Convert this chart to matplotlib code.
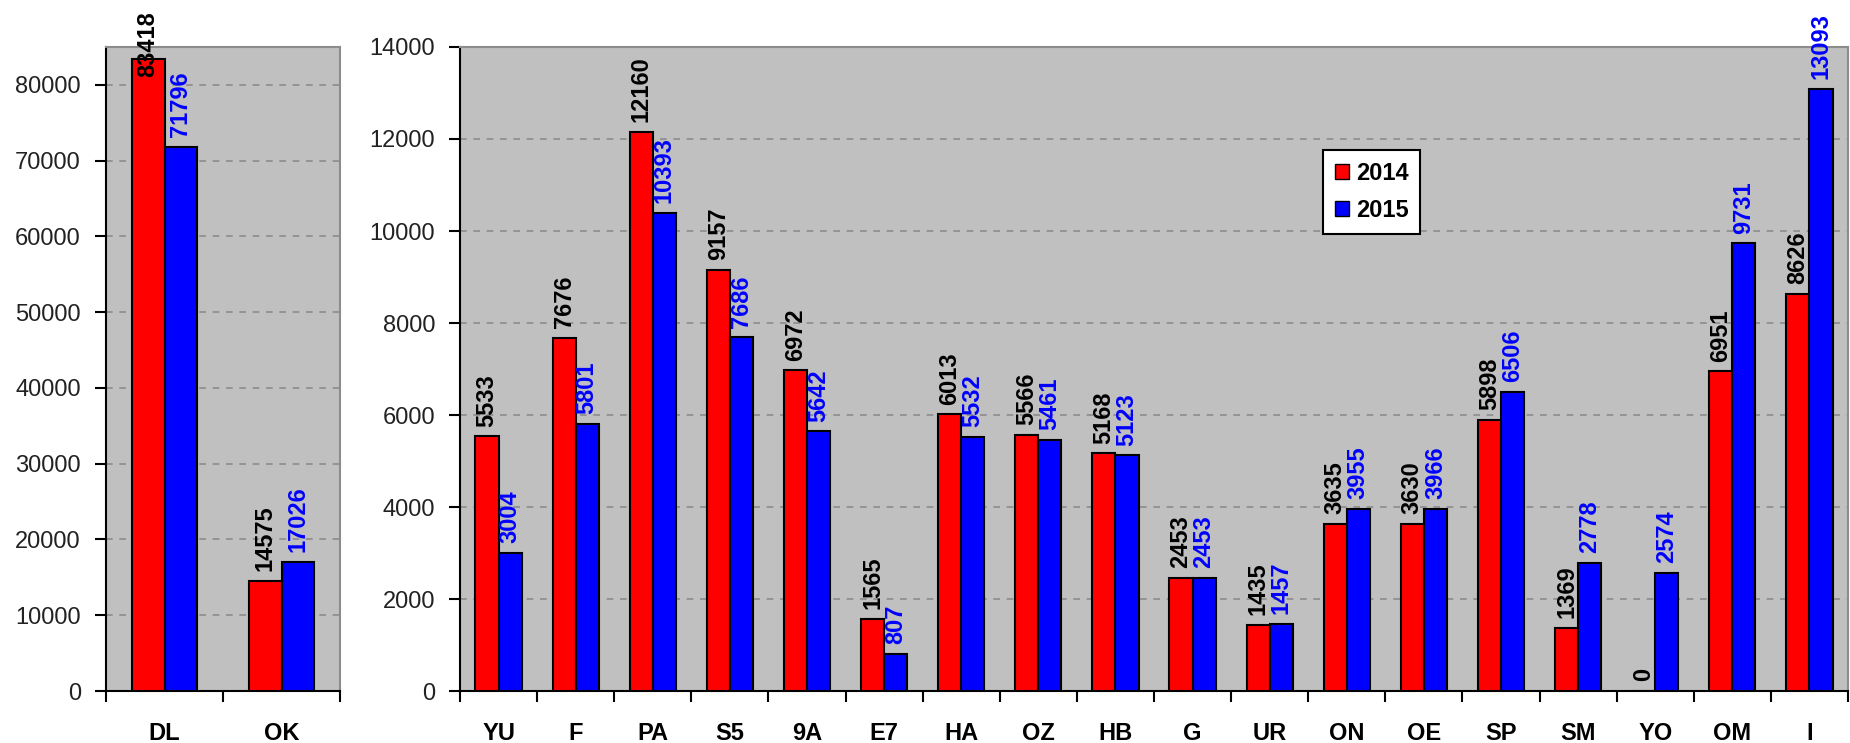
import numpy as np
import matplotlib
matplotlib.use("Agg")
import matplotlib.pyplot as plt
from matplotlib.patches import Patch

plt.rcParams['font.family'] = ['Liberation Sans', 'DejaVu Sans']

# data
big_cats = ["DL", "OK"]
big_2014 = [83418, 14575]
big_2015 = [71796, 17026]

small_cats = ["YU", "F", "PA", "S5", "9A", "E7", "HA", "OZ", "HB", "G",
              "UR", "ON", "OE", "SP", "SM", "YO", "OM", "I"]
small_2014 = [5533, 7676, 12160, 9157, 6972, 1565, 6013, 5566, 5168, 2453,
              1435, 3635, 3630, 5898, 1369, 0, 6951, 8626]
small_2015 = [3004, 5801, 10393, 7686, 5642, 807, 5532, 5461, 5123, 2453,
              1457, 3955, 3966, 6506, 2778, 2574, 9731, 13093]

RED = "#ff0000"
BLUE = "#0000ff"
BG = "#c0c0c0"
FS = 17

fig = plt.figure(figsize=(18.5, 7.43), dpi=100)
ax1 = fig.add_axes([106/1850, 1-691/743, (340-106)/1850, (691-47)/743])
ax2 = fig.add_axes([460/1850, 1-691/743, (1848-460)/1850, (691-47)/743])


def draw(ax, cats, v14, v15, ymax, step, w, label_cap=None):
    x = np.arange(len(cats))
    ax.set_facecolor(BG)
    ax.bar(x - w/2, v14, w, color=RED, edgecolor="black", linewidth=1.5, zorder=3)
    ax.bar(x + w/2, v15, w, color=BLUE, edgecolor="black", linewidth=1.5, zorder=3)
    for xi, a, b in zip(x, v14, v15):
        for xx, v, c in ((xi - w/2, a, "black"), (xi + w/2, b, BLUE)):
            y, off = v, 7
            # excel pushes the label down when it would leave the picture
            if label_cap is not None and v > label_cap:
                y, off = label_cap, 0
            ax.annotate(str(v), (xx, y), xytext=(0, off), textcoords="offset points",
                        rotation=90, ha="center", va="bottom", fontsize=FS,
                        fontweight="bold", color=c, zorder=5, annotation_clip=False)
    ax.set_xlim(-0.5, len(cats) - 0.5)
    ax.set_ylim(0, ymax)
    ax.set_yticks(np.arange(0, ymax + 1, step))
    ax.set_xticks(x)
    ax.set_xticklabels(cats, fontsize=FS, fontweight="bold")
    ax.set_xticks(np.arange(-0.5, len(cats)), minor=True)
    ax.tick_params(axis="x", which="major", length=0, pad=22)
    ax.tick_params(axis="x", which="minor", length=8, width=1.5, direction="out")
    ax.tick_params(axis="y", length=8, width=1.5, pad=10, labelsize=FS, labelcolor="#222222")
    ax.grid(axis="y", color="#8c8c8c", linestyle=(0, (4, 4)), linewidth=1.2, zorder=0)
    ax.set_axisbelow(True)
    for s in ("top", "right"):
        ax.spines[s].set_color("#8c8c8c")
        ax.spines[s].set_linewidth(1.5)
    for s in ("left", "bottom"):
        ax.spines[s].set_color("black")
        ax.spines[s].set_linewidth(1.5)


draw(ax1, big_cats, big_2014, big_2015, 85000, 10000, 0.28, label_cap=81000)
draw(ax2, small_cats, small_2014, small_2015, 14000, 2000, 0.3)

handles = [Patch(facecolor=RED, edgecolor="black", label="2014"),
           Patch(facecolor=BLUE, edgecolor="black", label="2015")]
leg = fig.legend(handles=handles, loc="upper left",
                 bbox_to_anchor=(1311/1850, 1-138/743), fancybox=False,
                 framealpha=1, edgecolor="black", handlelength=0.6, handleheight=0.6,
                 handletextpad=0.3, labelspacing=0.6, borderpad=0.5,
                 prop={"size": FS, "weight": "bold"})
leg.get_frame().set_linewidth(1.5)

fig.savefig("out.png", dpi=100)
